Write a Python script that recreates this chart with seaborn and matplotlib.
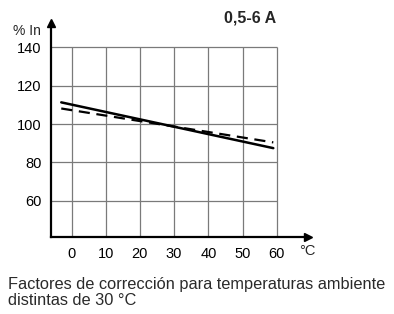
import matplotlib
matplotlib.use("Agg")
import matplotlib.pyplot as plt
import seaborn as sns
import pandas as pd

sns.set_style("white")
plt.rcParams['font.family'] = ['Liberation Sans', 'DejaVu Sans']

# Data
temp_solid = [-3, 59]
pct_solid = [111.3, 87.4]
temp_dashed = [-3, 59]
pct_dashed = [108.1, 90.4]
x_ticks = [0, 10, 20, 30, 40, 50, 60]
y_ticks = [60, 80, 100, 120, 140]
title = "0,5-6 A"
caption = "Factores de corrección para temperaturas ambiente\ndistintas de 30 °C"

fig = plt.figure(figsize=(3.94, 3.14), dpi=100)
ax = fig.add_axes([51/394, 1-237/314, 256.5/394, 214.5/314])
xmin, xmax, ymin, ymax = -6, 69, 41, 153
ax.set_xlim(xmin, xmax)
ax.set_ylim(ymin, ymax)

# grid
ax.hlines(y_ticks, xmin, 60, color="#7a7a7a", lw=0.9, zorder=1)
ax.vlines(x_ticks, ymin, 140, color="#7a7a7a", lw=0.9, zorder=1)

df_s = pd.DataFrame({"t": temp_solid, "p": pct_solid})
df_d = pd.DataFrame({"t": temp_dashed, "p": pct_dashed})
sns.lineplot(data=df_s, x="t", y="p", ax=ax, color="black", lw=1.8, zorder=3)
sns.lineplot(data=df_d, x="t", y="p", ax=ax, color="black", lw=1.6,
             linestyle=(0, (5, 3)), zorder=3)

for s in ["top", "right"]:
    ax.spines[s].set_visible(False)
for s in ["left", "bottom"]:
    ax.spines[s].set_color("black")
    ax.spines[s].set_linewidth(1.6)
ax.plot(1, 0, ">k", transform=ax.transAxes, clip_on=False, ms=6)
ax.plot(0, 1, "^k", transform=ax.transAxes, clip_on=False, ms=6)

ax.set_xticks(x_ticks)
ax.set_yticks(y_ticks)
ax.tick_params(length=0, labelsize=10.5, colors="black")
ax.tick_params(axis="y", pad=7)
ax.tick_params(axis="x", pad=7)
ax.set_xlabel("")
ax.set_ylabel("")

fig.text(27/394, 1-31/314, "% In", ha="center", va="center", fontsize=10)
fig.text(307/394, 1-251/314, "°C", ha="center", va="center", fontsize=10.5)
fig.text(250/394, 1-18/314, title, ha="center", va="center", fontsize=11.5,
         fontweight="bold")
fig.text(8/394, 1-292.5/314, caption, ha="left", va="center", fontsize=11.8,
         color="#2a2a2a", linespacing=1.16)

fig.savefig("out.png", dpi=100)
